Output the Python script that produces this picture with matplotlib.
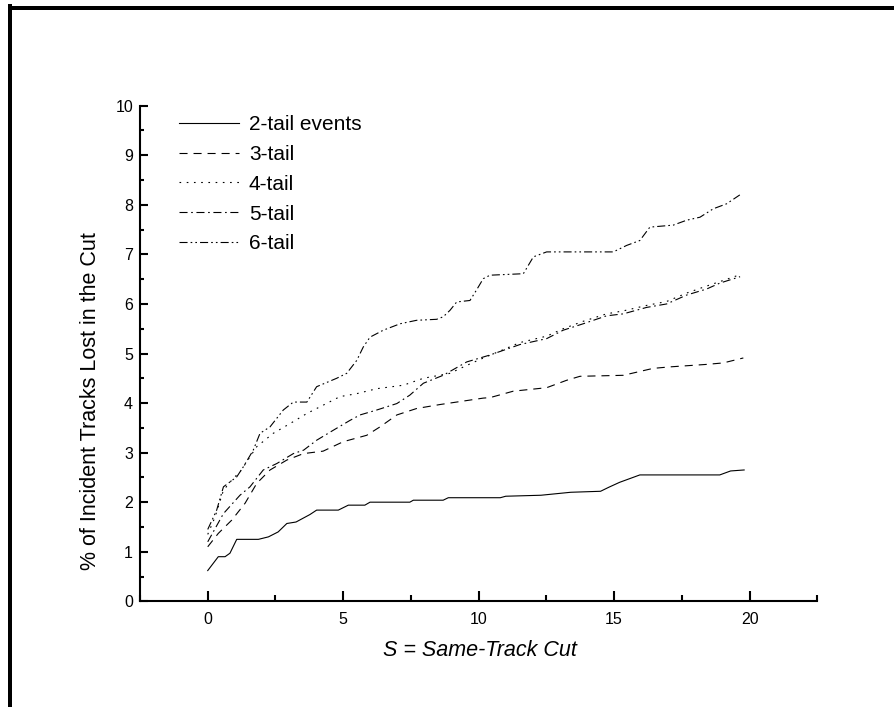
import matplotlib
matplotlib.use("Agg")
import matplotlib.pyplot as plt
from matplotlib.lines import Line2D
from matplotlib.ticker import MultipleLocator

plt.rcParams['font.family'] = ['Liberation Sans', 'DejaVu Sans']
plt.rcParams['lines.scale_dashes'] = False

# ---- data ----
labels = ["2-tail events", "3-tail", "4-tail", "5-tail", "6-tail"]

s2_x = [0, 0.39, 0.64, 0.82, 1.07, 1.87, 2.24, 2.6, 2.92, 3.26, 3.77, 4.02, 4.82, 5.19, 5.8, 5.99,
        7.46, 7.59, 8.69, 8.88, 10.8, 11.0, 12.3, 13.4, 14.5, 14.8, 15.2, 15.6, 15.95, 18.9, 19.3, 19.8]
s2_y = [0.62, 0.90, 0.90, 0.97, 1.25, 1.25, 1.30, 1.40, 1.57, 1.60, 1.75, 1.84, 1.84, 1.94, 1.94, 2.0,
        2.0, 2.04, 2.04, 2.09, 2.09, 2.12, 2.14, 2.2, 2.22, 2.3, 2.4, 2.48, 2.55, 2.55, 2.63, 2.65]

s3_x = [0, 0.39, 0.89, 1.38, 1.81, 2.3, 2.92, 3.53, 4.26, 5.0, 5.87, 6.36, 6.98, 7.71, 8.57, 10.17,
        10.42, 11.28, 12.51, 13.25, 13.74, 15.34, 16.44, 17.06, 18.41, 19.03, 19.77]
s3_y = [1.1, 1.37, 1.64, 1.98, 2.38, 2.65, 2.85, 2.98, 3.03, 3.22, 3.35, 3.52, 3.76, 3.89, 3.97, 4.1,
        4.11, 4.24, 4.31, 4.46, 4.54, 4.56, 4.70, 4.73, 4.78, 4.81, 4.91]

s4_x = [0, 0.27, 0.58, 0.94, 1.19, 1.81, 2.42, 3.05, 3.66, 4.27, 4.88, 5.5, 6.24, 7.22, 7.96, 8.94,
        9.56, 10.05, 10.79, 11.52, 12.51, 13.12, 13.86, 14.72, 15.34, 16.2, 16.94, 17.68, 18.41, 18.9, 19.7]
s4_y = [1.35, 1.7, 2.24, 2.48, 2.61, 3.12, 3.39, 3.59, 3.79, 3.96, 4.13, 4.19, 4.29, 4.36, 4.5, 4.6,
        4.76, 4.88, 5.05, 5.22, 5.35, 5.5, 5.65, 5.8, 5.86, 5.97, 6.05, 6.22, 6.36, 6.45, 6.6]

s5_x = [0, 0.58, 1.19, 1.56, 2.05, 2.55, 3.16, 3.54, 4.02, 4.63, 5.25, 5.62, 6.24, 6.98, 7.46, 7.96,
        8.69, 9.56, 10.42, 11.52, 12.51, 13.12, 13.86, 14.72, 15.34, 16.2, 16.94, 17.68, 18.41, 18.9, 19.65]
s5_y = [1.2, 1.77, 2.14, 2.31, 2.65, 2.78, 2.98, 3.05, 3.25, 3.45, 3.65, 3.76, 3.86, 3.99, 4.16, 4.4,
        4.56, 4.83, 4.97, 5.18, 5.3, 5.47, 5.6, 5.76, 5.8, 5.93, 6.0, 6.18, 6.3, 6.42, 6.55]

s6_x = [0, 0.33, 0.58, 1.07, 1.31, 1.68, 1.93, 2.3, 2.79, 3.16, 3.66, 4.02, 4.76, 5.13, 5.5, 5.74,
        5.99, 6.48, 7.1, 7.71, 8.45, 8.69, 8.94, 9.19, 9.68, 9.92, 10.17, 10.42, 11.65, 12.02, 12.51,
        14.97, 15.46, 15.95, 16.32, 17.18, 17.68, 18.17, 18.66, 19.15, 19.64]
s6_y = [1.45, 1.84, 2.31, 2.51, 2.71, 3.05, 3.39, 3.52, 3.86, 4.02, 4.02, 4.33, 4.5, 4.6, 4.86, 5.13,
        5.33, 5.47, 5.6, 5.67, 5.69, 5.74, 5.87, 6.04, 6.07, 6.28, 6.51, 6.58, 6.61, 6.95, 7.05,
        7.05, 7.18, 7.28, 7.55, 7.59, 7.69, 7.75, 7.92, 8.02, 8.2]

x_major = [0, 5, 10, 15, 20]
y_major = list(range(0, 11))

# ---- figure ----
W, H = 894, 707
fig = plt.figure(figsize=(W / 100, H / 100), dpi=100)

# outer frame (left and top edges visible)
fig.add_artist(Line2D([10 / W, 10 / W], [0, 1 - 6 / H], transform=fig.transFigure,
                      color='black', lw=4 * 0.72, solid_capstyle='projecting'))
fig.add_artist(Line2D([10 / W, 1], [1 - 8 / H, 1 - 8 / H], transform=fig.transFigure,
                      color='black', lw=4 * 0.72, solid_capstyle='projecting'))

ax_l, ax_r, ax_t, ax_b = 140, 817.3, 105.7, 601.3
ax = fig.add_axes([ax_l / W, 1 - ax_b / H, (ax_r - ax_l) / W, (ax_b - ax_t) / H])

lw = 0.8
styles = [
    dict(linestyle='-'),
    dict(linestyle=(0, (5.8, 4.3))),
    dict(linestyle=(0, (1.2, 4.0))),
    dict(linestyle=(0, (5.8, 2.6, 1.2, 2.6))),
    dict(linestyle=(0, (5.8, 2.2, 1.2, 2.2, 1.2, 2.2))),
]
series = [(s2_x, s2_y), (s3_x, s3_y), (s4_x, s4_y), (s5_x, s5_y), (s6_x, s6_y)]
for (xs, ys), st, lab in zip(series, styles, labels):
    ax.plot(xs, ys, color='black', lw=lw, label=lab, **st)

ax.set_xlim(-2.5, 22.5)
ax.set_ylim(0, 10)
ax.set_xticks(x_major)
ax.set_yticks(y_major)
ax.xaxis.set_minor_locator(MultipleLocator(2.5))
ax.yaxis.set_minor_locator(MultipleLocator(0.5))

for s in ['top', 'right']:
    ax.spines[s].set_visible(False)
for s in ['left', 'bottom']:
    ax.spines[s].set_linewidth(1.5)

ax.tick_params(axis='both', which='both', direction='in', width=1.5, labelsize=11.5)
ax.tick_params(axis='x', which='major', length=7, pad=8)
ax.tick_params(axis='x', which='minor', length=4)
ax.tick_params(axis='y', which='major', length=6, pad=5)
ax.tick_params(axis='y', which='minor', length=3)

ax.set_xlabel("S = Same-Track Cut", fontsize=15.5, style='italic')
ax.xaxis.set_label_coords((480 - ax_l) / (ax_r - ax_l), (ax_b - 651) / (ax_b - ax_t))
ax.xaxis.label.set_va('center')
ax.set_ylabel("% of Incident Tracks Lost in the Cut", fontsize=15.5)
ax.yaxis.set_label_coords((91 - ax_l) / (ax_r - ax_l), (ax_b - 401) / (ax_b - ax_t))
ax.yaxis.label.set_va('center')

leg = ax.legend(loc='upper left', bbox_to_anchor=((179 - ax_l) / (ax_r - ax_l), (ax_b - 115) / (ax_b - ax_t)),
                frameon=False, fontsize=15, borderpad=0, borderaxespad=0,
                handlelength=2.9, handletextpad=0.45, labelspacing=0.52)

fig.savefig("out.png", dpi=100)
